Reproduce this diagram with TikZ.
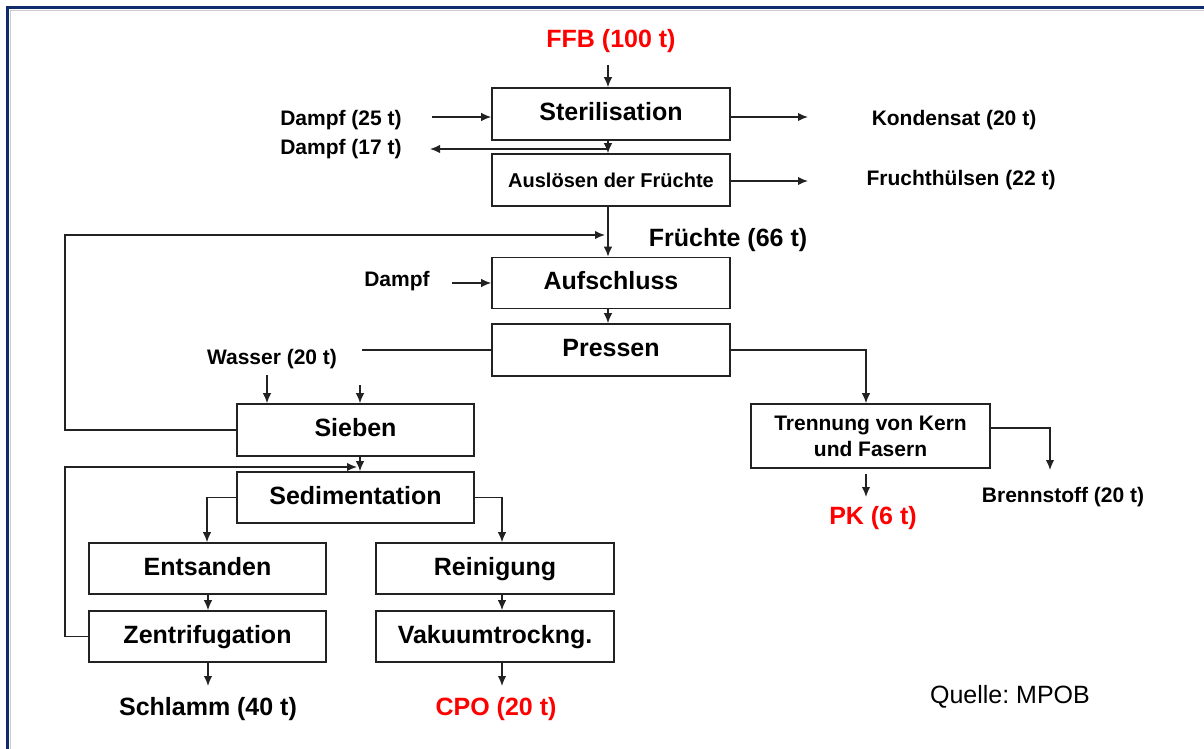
\documentclass[tikz,border=0pt]{standalone}
\usepackage{fontspec}
\setmainfont{Liberation Sans}
\usetikzlibrary{arrows.meta,calc}
\definecolor{navyb}{HTML}{102C6C}
\definecolor{lineg}{HTML}{222222}
\definecolor{redt}{HTML}{FF0000}
\begin{document}
\frenchspacing
\begin{tikzpicture}[x=1pt,y=-1pt,
  box/.style={draw=lineg, line width=1.6pt, inner sep=0pt, align=center, font=\bfseries\fontsize{25}{30}\selectfont},
  sl/.style={text height=18pt, text depth=5pt},
  lbl/.style={inner sep=0pt, align=center, yshift=-3pt, font=\bfseries\fontsize{21}{25}\selectfont},
  big/.style={inner sep=0pt, align=center, yshift=-3pt, font=\bfseries\fontsize{25}{30}\selectfont},
  redlbl/.style={big, text=redt},
  conn/.style={draw=lineg, line width=1.4pt},
  arr/.style={conn, -{Latex[length=10pt,width=8.5pt]}}]
\useasboundingbox (0,0) rectangle (1204,749);
\fill[white] (0,0) rectangle (1204,749);
% frame
\draw[gray!40, line width=1pt] (1210,11) -- (10,11) -- (10,760);
\draw[navyb, line width=3pt] (1210,8) -- (7,8) -- (7,760);

% boxes
\node[box, sl, minimum width=238pt, minimum height=52pt] (steril) at (611,114) {Sterilisation};
\node[box, minimum width=238pt, minimum height=52pt, text height=17pt, text depth=2pt, font=\bfseries\fontsize{20}{24}\selectfont] (ausl) at (611,180) {Auslösen der Früchte};
\node[box, sl, minimum width=238pt, minimum height=51pt] (aufs) at (611,283) {Aufschluss};
\node[box, sl, minimum width=238pt, minimum height=52pt] (press) at (611,350) {Pressen};
\node[box, minimum width=239pt, minimum height=64pt, font=\bfseries\fontsize{21}{26}\selectfont] (trenn) at (870.5,436) {Trennung von Kern\\und Fasern};
\node[box, sl, minimum width=237pt, minimum height=52pt] (sieb) at (355.5,430) {Sieben};
\node[box, sl, minimum width=237pt, minimum height=51pt] (sedi) at (355.5,497.5) {Sedimentation};
\node[box, sl, minimum width=237pt, minimum height=51pt] (ents) at (207.5,568.5) {Entsanden};
\node[box, sl, minimum width=237pt, minimum height=51pt] (zent) at (207.5,636.5) {Zentrifugation};
\node[box, sl, minimum width=238pt, minimum height=51pt] (rein) at (495,568.5) {Reinigung};
\node[box, sl, minimum width=238pt, minimum height=51pt] (vak) at (495,636.5) {Vakuumtrockng.};

% labels
\node[redlbl] (ffb) at (611,38) {FFB (100 t)};
\node[lbl] (d25) at (341,117) {Dampf (25 t)};
\node[lbl] (d17) at (341,146) {Dampf (17 t)};
\node[lbl] (kond) at (954,117) {Kondensat (20 t)};
\node[lbl] (fhul) at (961,177) {Fruchthülsen (22 t)};
\node[big] (frue) at (728,237) {Früchte (66 t)};
\node[lbl] (dampf) at (397,278) {Dampf};
\node[lbl] (wass) at (272,356) {Wasser (20 t)};
\node[lbl] (brenn) at (1063,494) {Brennstoff (20 t)};
\node[redlbl] (pk) at (873,515) {PK (6 t)};
\node[big] (schl) at (208,706) {Schlamm (40 t)};
\node[redlbl] (cpo) at (496,706) {CPO (20 t)};
\node[inner sep=0pt, yshift=-3pt, font=\fontsize{25}{30}\selectfont] (quel) at (1010,694) {Quelle: MPOB};

% helper coordinates
\coordinate (ffbs) at (608,65);
\coordinate (d25e) at (432,117);
\coordinate (konw) at (808,117);
\coordinate (d17e) at (430,149);
\coordinate (fhw) at (808,181);
\coordinate (dampfe) at (452,283);
\coordinate (wasse) at (362,350);
\coordinate (w1) at (267,375);
\coordinate (w2) at (360,385);
\coordinate (pkn) at (866,474);
\coordinate (brn) at (1050,470);
\coordinate (schn) at (208,686);
\coordinate (cpon) at (502,686);

% connectors
\draw[arr] (ffbs) -- (ffbs |- steril.north);
\draw[arr] (d25e) -- (steril.west |- d25e);
\draw[arr] (steril.east |- konw) -- (konw);
\draw[arr] (steril.south -| ffbs) -- (ausl.north -| ffbs);
\draw[arr] (d17e -| ffbs) -- (d17e);
\draw[arr] (ausl.east |- fhw) -- (fhw);
\draw[arr] (ausl.south -| ffbs) -- (aufs.north -| ffbs);
\draw[arr] (sieb.west) -- (65,430) -- (65,235) -- (605,235);
\draw[arr] (dampfe) -- (aufs.west);
\draw[arr] (aufs.south -| ffbs) -- (press.north -| ffbs);
\draw[conn] (press.west) -- (wasse);
\draw[arr] (press.east) -- (866,350) -- (trenn.north -| 866,0);
\draw[arr] (trenn.east |- 0,428) -- (1050,428) -- (brn);
\draw[arr] (pkn) -- (866,497);
\draw[arr] (w1) -- (w1 |- sieb.north);
\draw[arr] (w2) -- (w2 |- sieb.north);
\draw[arr] (sieb.south -| w2) -- (sedi.north -| w2);
\draw[arr] (zent.west) -- (65,636.5) -- (65,467) -- (357,467);
\draw[arr] (sedi.west) -- (207,497.5) -- (ents.north -| 207,0);
\draw[arr] (sedi.east) -- (502,497.5) -- (rein.north -| cpon);
\draw[arr] (ents.south -| schn) -- (zent.north -| schn);
\draw[arr] (zent.south -| schn) -- (schn);
\draw[arr] (rein.south -| cpon) -- (vak.north -| cpon);
\draw[arr] (vak.south -| cpon) -- (cpon);
\end{tikzpicture}
\end{document}
